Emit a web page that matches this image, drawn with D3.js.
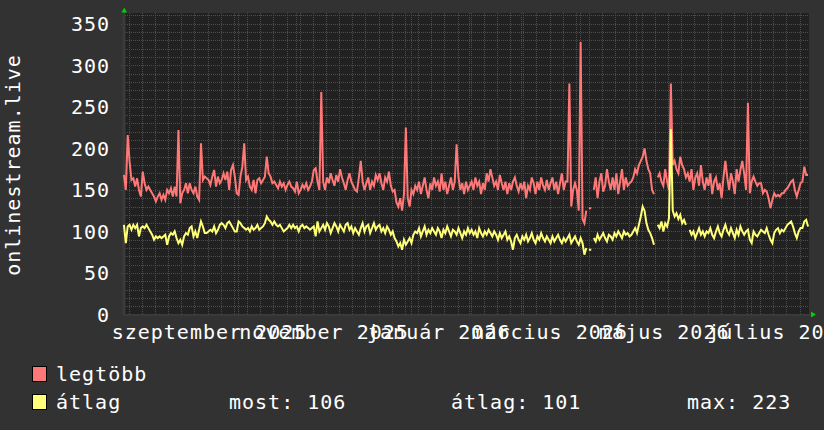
<!DOCTYPE html>
<html><head><meta charset="utf-8">
<script src="https://cdn.jsdelivr.net/npm/d3@7"></script>
<style>
html,body{margin:0;padding:0;background:#323232;}
svg{display:block;}
text{font-family:"DejaVu Sans Mono",monospace;font-size:20px;letter-spacing:1px;fill:#ffffff;}
</style>
</head><body>
<svg id="c" width="824" height="430"></svg>
<script>
// ---- data (one value per day, starting 2025-08-01) ----
const startDay = "2025-08-01";
const endDay = "2026-08-01";
const legtobb = [
168,150,216,184,162,164,154,164,150,142,
172,158,150,154,150,146,142,136,142,146,
138,144,138,150,146,152,142,154,142,222,
134,146,150,158,146,158,150,146,154,142,
138,206,162,166,164,162,156,166,174,154,
166,158,162,170,162,172,150,174,180,166,
146,144,166,178,206,162,166,154,150,162,
146,162,164,158,162,166,190,170,166,158,
160,156,152,160,154,158,150,156,160,154,
152,148,160,146,150,156,152,158,150,154,
160,174,176,160,150,268,160,150,165,158,
170,162,155,168,160,175,165,158,150,162,
170,160,155,150,148,165,185,160,150,158,
165,150,160,155,168,162,170,158,150,165,
160,172,155,148,150,135,130,140,125,145,
225,140,130,150,145,155,150,160,145,155,
165,150,140,158,150,165,155,160,148,170,
150,160,145,155,165,150,160,205,165,150,
158,145,160,150,155,160,150,165,155,160,
145,158,150,170,160,175,165,155,160,150,
168,158,150,160,145,158,150,160,165,155,
148,158,150,160,140,155,150,165,158,145,
160,150,165,155,150,162,150,158,165,150,
160,145,158,170,150,160,160,278,130,150,
158,150,125,328,115,110,125,null,128,null,
150,165,140,160,170,148,155,175,160,150,
165,150,170,145,160,175,150,165,155,158,
160,165,175,170,180,185,190,200,185,175,
170,150,145,null,165,170,160,155,175,160,
150,278,180,185,175,170,190,180,175,165,
170,160,175,150,165,170,155,180,160,150,
165,155,170,145,160,165,150,158,140,165,
185,165,150,170,160,145,175,160,174,185,
170,150,255,146,160,166,160,155,158,158,
146,150,148,140,128,138,146,142,144,142,
146,146,150,152,156,160,162,150,142,150,
158,160,178,168,168
];
const atlag = [
108,86,106,108,102,108,104,108,94,104,
106,104,108,104,100,96,90,94,92,94,
92,94,96,84,94,98,96,100,92,86,
90,84,94,98,96,104,106,94,100,92,
102,112,106,98,98,100,102,100,106,98,
102,108,110,108,104,110,112,108,104,100,
100,112,110,106,104,102,104,100,106,102,
104,108,102,104,106,110,118,114,112,108,
112,108,106,108,104,100,102,104,108,104,
108,104,106,100,106,108,104,106,104,102,
104,106,94,112,100,104,108,102,110,106,
98,104,110,106,100,108,104,100,108,110,
102,106,98,104,100,96,104,110,100,106,
108,98,104,110,102,106,108,100,104,98,
106,102,96,100,92,88,82,86,78,90,
84,88,92,86,96,100,98,104,94,100,
106,96,102,98,104,100,96,104,100,92,
102,98,106,100,94,102,100,96,104,98,
92,100,96,104,98,102,96,100,92,104,
98,94,100,96,102,98,94,100,96,90,
98,92,96,100,90,94,88,78,92,96,
90,86,94,90,96,88,92,98,90,86,
94,90,98,92,88,94,90,86,94,88,
92,96,90,86,92,88,92,96,86,90,
94,88,84,92,86,72,80,null,78,null,
92,88,96,90,94,98,92,88,96,94,
90,98,94,100,96,92,100,96,98,94,
96,100,104,98,108,118,130,125,110,102,
98,92,84,null,108,104,112,100,110,106,
116,223,125,118,122,115,120,110,114,108,
null,102,96,100,92,98,104,96,100,94,
100,98,104,96,92,100,106,98,94,102,
108,100,96,104,98,92,102,96,106,100,
96,100,102,90,86,100,96,94,98,102,
100,98,104,96,90,86,98,102,104,98,
102,100,104,108,110,112,106,98,92,100,
104,104,112,114,106
];
const yTicks = [0,50,100,150,200,250,300,350];
const monthLabels = ["szeptember 2025","november 2025","január 2026","március 2026","május 2026","július 2026"];
const monthLabelDates = ["2025-09-01","2025-11-01","2026-01-01","2026-03-01","2026-05-01","2026-07-01"];
const seriesNames = ["legtöbb","átlag"];
const seriesColors = ["#ff7878","#ffff78"];
const statLabels = ["most: 106","átlag: 101","max: 223"];
const yTitle = "onlinestream.live";

// ---- layout ----
const L = 123, R = 809, T = 13, B = 314.5;
const svg = d3.select("#c");
svg.append("rect").attr("width",824).attr("height",430).attr("fill","#323232");

const x = d3.scaleUtc().domain([new Date(startDay), new Date(endDay)]).range([L, R]);
const y = d3.scaleLinear().domain([0, 363]).range([B, T]);
const DAY = 864e5;
const t0 = new Date(startDay).getTime();
const dateOf = i => new Date(t0 + i*DAY + DAY/2);

svg.append("rect").attr("x",L).attr("y",T).attr("width",R-L).attr("height",B-T).attr("fill","#212121");

const g = svg.append("g");
const minorY = d3.range(10, 363, 10).filter(v => v % 50 !== 0);
g.selectAll(".hmin").data(minorY).join("line")
  .attr("x1",L).attr("x2",R).attr("y1",d=>Math.round(y(d))+0.5).attr("y2",d=>Math.round(y(d))+0.5)
  .attr("stroke","#4e4e4e").attr("stroke-dasharray","1,1");
const weeks = d3.utcMonday.range(new Date(startDay), new Date(endDay));
g.selectAll(".vmin").data(weeks).join("line")
  .attr("x1",d=>Math.round(x(d))+0.5).attr("x2",d=>Math.round(x(d))+0.5).attr("y1",T).attr("y2",B+2)
  .attr("stroke","#4e4e4e").attr("stroke-dasharray","1,1");
g.selectAll(".hmaj").data(yTicks.filter(v=>v>0)).join("line")
  .attr("x1",L-2).attr("x2",R).attr("y1",d=>Math.round(y(d))+0.5).attr("y2",d=>Math.round(y(d))+0.5)
  .attr("stroke","#7a3838").attr("stroke-dasharray","1,1");
const months = d3.utcMonth.range(new Date("2025-09-01"), new Date(endDay));
g.selectAll(".vmaj").data(months).join("line")
  .attr("x1",d=>Math.round(x(d))+0.5).attr("x2",d=>Math.round(x(d))+0.5).attr("y1",T).attr("y2",B+3)
  .attr("stroke","#7a3838").attr("stroke-dasharray","1,1");

svg.append("line").attr("x1",L+1).attr("x2",L+1).attr("y1",T-2).attr("y2",B+1).attr("stroke","#3a3a3a").attr("stroke-width",3);
svg.append("line").attr("x1",L).attr("x2",R+2).attr("y1",B+0.5).attr("y2",B+0.5).attr("stroke","#3a3a3a").attr("stroke-width",2);
svg.append("path").attr("d",`M${L-1.5},${T-0.5} L${L+4},${T-0.5} L${L+1.25},${T-5.5} Z`).attr("fill","#00d000");
svg.append("path").attr("d",`M${R+2},${B-3} L${R+2},${B+3} L${R+7},${B} Z`).attr("fill","#00d000");

[legtobb, atlag].forEach((vals, si) => {
  const pts = vals.map((v,i)=>({d:dateOf(i), v}));
  const line = d3.line().defined(p=>p.v!=null).x(p=>x(p.d)).y(p=>y(p.v));
  svg.append("path").attr("d", line(pts)).attr("fill","none")
    .attr("stroke", seriesColors[si]).attr("stroke-width",2).attr("stroke-linejoin","miter");
  pts.forEach((p,i)=>{
    if (p.v!=null && (i===0||vals[i-1]==null) && (i===vals.length-1||vals[i+1]==null)) {
      svg.append("line").attr("x1",x(p.d)-1.2).attr("x2",x(p.d)+1.2).attr("y1",y(p.v)).attr("y2",y(p.v))
        .attr("stroke",seriesColors[si]).attr("stroke-width",2);
    }
  });
});

svg.selectAll(".yl").data(yTicks).join("text")
  .attr("x",110).attr("y",d=>y(d)+7.2).attr("text-anchor","end").text(d=>d);
svg.selectAll(".xl").data(monthLabels).join("text")
  .attr("x",(d,i)=>x(new Date(new Date(monthLabelDates[i]).getTime()+15*DAY)))
  .attr("y",339).attr("text-anchor","middle").text(d=>d);
svg.append("text").attr("transform","translate(20,165) rotate(-90)").attr("text-anchor","middle").text(yTitle);

seriesNames.forEach((n,i)=>{
  const yy = 366 + i*28;
  svg.append("rect").attr("x",32.5).attr("y",yy+0.5).attr("width",14).attr("height",15)
    .attr("fill",seriesColors[i]).attr("stroke","#000").attr("stroke-width",1);
  svg.append("text").attr("x",56).attr("y",yy+14.5).text(n);
});
const statX = [229, 451, 687];
statLabels.forEach((s,i)=>{
  svg.append("text").attr("x",statX[i]).attr("y",366+28+14.5).text(s);
});
</script>
</body></html>
